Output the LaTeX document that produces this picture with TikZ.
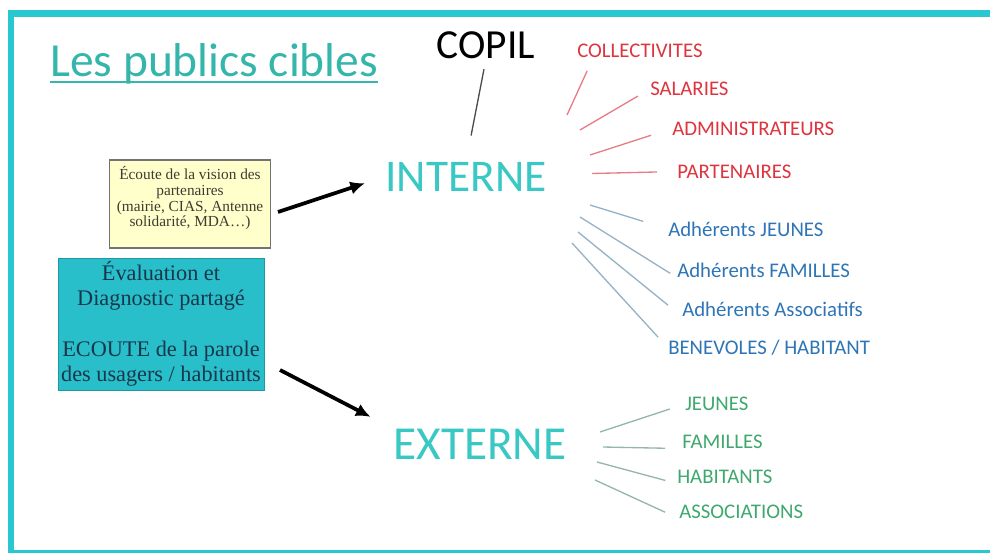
\documentclass[tikz,border=0pt]{standalone}
\usepackage{fontspec}
\setmainfont{Liberation Serif}
\newfontfamily\carlito{Carlito}
\usepackage{xcolor}
\usepackage{tikz}
\usetikzlibrary{arrows.meta,positioning,calc}
\definecolor{frameteal}{RGB}{40,200,208}
\definecolor{titleteal}{RGB}{52,182,170}
\definecolor{hubteal}{RGB}{58,200,196}
\definecolor{boxteal}{RGB}{40,190,202}
\definecolor{boxink}{RGB}{25,55,75}
\definecolor{notefill}{RGB}{255,255,204}
\definecolor{noteink}{RGB}{60,60,50}
\definecolor{redink}{RGB}{222,52,62}
\definecolor{redspoke}{RGB}{232,125,135}
\definecolor{blueink}{RGB}{46,117,182}
\definecolor{bluespoke}{RGB}{150,178,198}
\definecolor{greenink}{RGB}{62,168,110}
\definecolor{greenspoke}{RGB}{150,182,170}

\begin{document}
\begin{tikzpicture}[x = .75pt, y = -.75pt,
    leaf/.style = {anchor = west, inner sep = 0pt, font = \carlito\fontsize{15.6}{18}\selectfont},
    hub/.style = {inner sep = 0pt, text = hubteal, font = \carlito\fontsize{34}{40}\selectfont},
    spoke/.style = {line width = 1pt},
    bigarrow/.style = {-{Latex[length=11pt,width=10pt]}, line width = 2.8pt}]
    \useasboundingbox (0,0) rectangle (990,553);
    \clip (0,0) rectangle (990,553);
    % frame, open on the right
    \draw[frameteal, line width = 5pt] (1000,13.5) -- (11,13.5) -- (11,553) -- (1000,553);
    %%%%%%%%%%
    \node[anchor = base west, inner sep = 0pt, text = titleteal, font = \carlito\fontsize{35.6}{40}\selectfont] (title) at (50,76) {Les publics cibles};
    \draw[titleteal, line width = 1.4pt] ([yshift=-4.5pt]title.base west) -- ([yshift=-4.5pt]title.base east);
    %%%%%%%%%%
    \node[inner sep = 0pt, font = \carlito\fontsize{31}{36}\selectfont] (copil) at (486,45) {COPIL};
    \node[hub] (interne) at (466,176.5) {INTERNE};
    \node[hub, font = \carlito\fontsize{35.5}{40}\selectfont] (externe) at (480,444) {EXTERNE};
    %%%%%%%%%%
    \node[draw = black!55, fill = notefill, text = noteink, line width = .8pt, align = center,
          minimum width = 121pt, minimum height = 66pt, inner sep = 0pt,
          font = \fontsize{11.5}{11.75}\selectfont] (partners) at (190,204)
          {Écoute de la vision des\\partenaires\\(mairie, CIAS, Antenne\\solidarité, MDA…)\rule[-11pt]{0pt}{11pt}};
    \node[draw = boxteal!80!black, fill = boxteal, text = boxink, line width = .6pt, align = center,
          minimum width = 154.5pt, minimum height = 99pt, inner sep = 0pt,
          font = \fontsize{16.7}{19}\selectfont] (diag) at (161,324)
          {Évaluation et\\Diagnostic partagé\\[19pt]ECOUTE de la parole\\des usagers / habitants};
    %%%%%%%%%%
    \node[leaf, text = redink] (coll) at (577,51) {COLLECTIVITES};
    \node[leaf, text = redink] (sal) at (650,89) {SALARIES};
    \node[leaf, text = redink] (adm) at (672,128.5) {ADMINISTRATEURS};
    \node[leaf, text = redink] (part) at (677,171.5) {PARTENAIRES};
    \node[leaf, text = blueink] (adhj) at (668,229) {Adhérents JEUNES};
    \node[leaf, text = blueink] (adhf) at (677,270) {Adhérents FAMILLES};
    \node[leaf, text = blueink] (adha) at (682,309) {Adhérents Associatifs};
    \node[leaf, text = blueink] (benev) at (668,348) {BENEVOLES / HABITANT};
    \node[leaf, text = greenink] (jeun) at (685,404) {JEUNES};
    \node[leaf, text = greenink] (fam) at (682,441.5) {FAMILLES};
    \node[leaf, text = greenink] (hab) at (677,476.5) {HABITANTS};
    \node[leaf, text = greenink] (assoc) at (679,511.5) {ASSOCIATIONS};
    %%%%%%%%%%
    \coordinate (r1) at (567,115);
    \coordinate (r2) at (580,130);
    \coordinate (r3) at (590,155);
    \coordinate (r4) at (592,173.5);
    \coordinate (b1) at (590,205);
    \coordinate (b2) at (580,217);
    \coordinate (b3) at (578,232);
    \coordinate (b4) at (572,243);
    \coordinate (g1) at (600,432);
    \coordinate (g2) at (603,447);
    \coordinate (g3) at (597,462);
    \coordinate (g4) at (595,480);
    \coordinate (from-partners) at (278,212);
    \coordinate (from-diag) at (280,370);
    %%%%%%%%%%
    \draw[bigarrow, shorten >= 16pt] (from-partners) -- (interne.west);
    \draw[bigarrow, shorten >= 19pt] (from-diag) -- (externe.north west);
    \draw[black!70, line width = 1pt, shorten <= 8pt, shorten >= 20pt] (copil.south) -- (interne.north);
    % spokes to the leaves
    \draw[spoke, redspoke, shorten >= 10.5pt] (r1) -- ([xshift=12pt]coll.south west);
    \draw[spoke, redspoke, shorten >= 10.5pt] (r2) -- (sal.west);
    \draw[spoke, redspoke, shorten >= 16.5pt] (r3) -- (adm.west);
    \draw[spoke, redspoke, shorten >= 15pt] (r4) -- (part.west);
    \draw[spoke, bluespoke, shorten >= 19.5pt] (b1) -- (adhj.west);
    \draw[spoke, bluespoke, shorten >= 6pt] (b2) -- (adhf.south west);
    \draw[spoke, bluespoke, shorten >= 13.5pt] (b3) -- (adha.south west);
    \draw[spoke, bluespoke, shorten >= 11pt] (b4) -- (benev.west);
    \draw[spoke, greenspoke, shorten >= 12pt] (g1) -- (jeun.west);
    \draw[spoke, greenspoke, shorten >= 12.75pt] (g2) -- (fam.south west);
    \draw[spoke, greenspoke, shorten >= 9pt] (g3) -- (hab.south west);
    \draw[spoke, greenspoke, shorten >= 11.5pt] (g4) -- (assoc.south west);
\end{tikzpicture}
\end{document}
